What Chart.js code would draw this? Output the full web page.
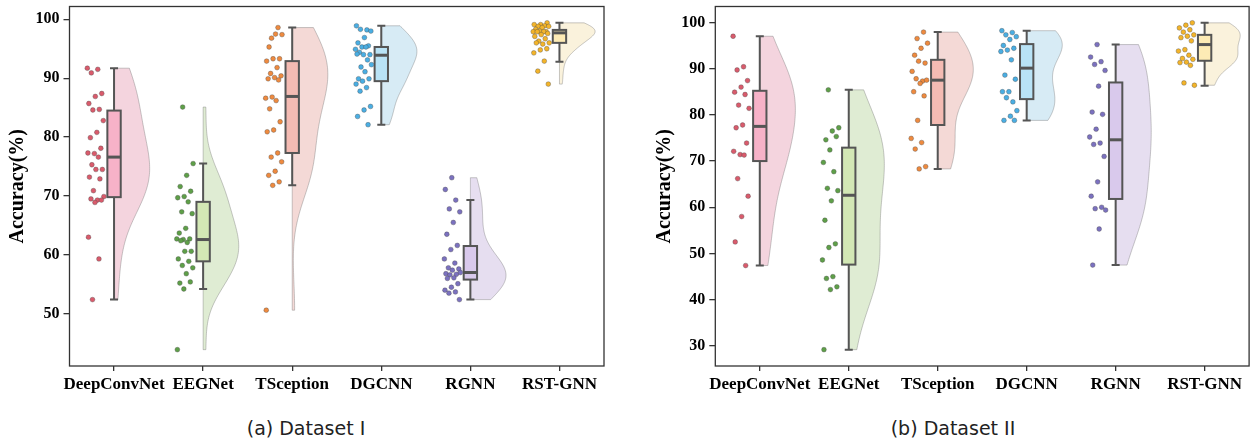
<!DOCTYPE html>
<html>
<head>
<meta charset="utf-8">
<script src="https://cdn.jsdelivr.net/npm/chart.js@4.4.1/dist/chart.umd.min.js"></script>
<style>
  body { margin: 0; background: #fff; width: 1252px; height: 443px; position: relative; overflow: hidden; }
  canvas { position: absolute; top: 0; }
  #chartA { left: 0; }
  #chartB { left: 640px; }
  .caption { position: absolute; top: 417px; font-family: "DejaVu Sans", sans-serif; font-size: 19px; color: #222; transform: translateX(-50%); white-space: nowrap; }
</style>
</head>
<body>
<canvas id="chartA" width="612" height="400"></canvas>
<canvas id="chartB" width="612" height="400"></canvas>
<div class="caption" style="left:306px">(a) Dataset I</div>
<div class="caption" style="left:953px">(b) Dataset II</div>
<script>
const categories = ["DeepConvNet", "EEGNet", "TSception", "DGCNN", "RGNN", "RST-GNN"];
const yTicksA = [50, 60, 70, 80, 90, 100];
const yTicksB = [30, 40, 50, 60, 70, 80, 90, 100];

// Dataset I, per-subject accuracy (%)
const deepConvNetA = [91.7, 91.5, 90.9, 87.4, 86.9, 85.7, 84.7, 84.6, 82.8, 80.8, 79.9, 78.1, 77.2, 77.3, 76.6, 75.3, 74.5, 74.5, 73.2, 72.9, 70.9, 69.9, 69.3, 69.5, 69.3, 68.9, 63.0, 59.3, 52.4];
const eegNetA = [85.1, 75.5, 73.5, 71.6, 70.8, 69.9, 69.7, 69.0, 67.3, 67.0, 64.5, 63.7, 62.7, 62.6, 62.7, 62.1, 62.4, 60.6, 60.6, 59.3, 58.9, 58.2, 57.8, 56.8, 55.2, 55.4, 54.2, 43.9];
const tsceptionA = [98.6, 96.8, 97.4, 97.5, 95.3, 93.3, 93.3, 92.9, 91.8, 90.8, 90.4, 90.1, 89.9, 89.7, 86.8, 86.6, 86.2, 84.8, 82.6, 81.2, 80.9, 77.3, 76.6, 75.8, 74.2, 73.5, 72.4, 71.8, 50.6];
const dgcnnA = [98.9, 98.2, 98.3, 98.0, 96.9, 96.0, 95.5, 95.3, 94.9, 95.3, 94.4, 94.0, 94.0, 94.1, 93.1, 91.9, 92.3, 91.1, 89.9, 89.9, 89.5, 89.0, 88.4, 87.8, 85.2, 84.6, 83.5, 82.1];
const rgnnA = [73.1, 71.1, 69.3, 67.8, 67.3, 65.5, 63.5, 61.6, 60.9, 59.3, 58.6, 57.8, 57.6, 57.4, 56.8, 56.7, 56.6, 57.0, 56.1, 56.0, 55.1, 54.5, 54.0, 53.7, 53.5, 52.4];
const rstGnnA = [99.4, 99.1, 99.1, 98.9, 98.8, 98.8, 98.6, 98.3, 97.9, 98.0, 97.9, 97.9, 97.9, 97.6, 97.4, 97.1, 96.7, 96.3, 96.0, 95.8, 96.0, 95.0, 94.8, 94.3, 92.9, 91.2, 89.0];

// Dataset II, per-subject accuracy (%)
const deepConvNetB = [97.0, 90.4, 89.7, 87.4, 86.0, 84.9, 84.4, 82.1, 81.4, 77.8, 77.2, 73.9, 71.4, 72.1, 71.3, 66.2, 62.4, 58.0, 52.5, 47.4];
const eegNetB = [85.4, 77.2, 76.5, 74.6, 75.3, 72.4, 69.7, 67.7, 64.1, 63.6, 61.4, 57.2, 52.1, 51.3, 48.6, 45.0, 44.6, 42.8, 42.2, 29.2];
const tsceptionB = [97.9, 96.5, 95.5, 94.4, 92.9, 91.2, 91.6, 89.4, 87.3, 87.8, 87.5, 86.8, 85.0, 84.1, 78.8, 74.9, 74.0, 72.6, 68.8, 68.3];
const dgcnnB = [98.2, 97.8, 97.3, 96.9, 96.3, 95.0, 94.4, 94.0, 93.7, 91.9, 88.6, 87.7, 85.0, 85.0, 82.8, 83.7, 80.9, 79.7, 78.8, 78.8];
const rgnnB = [95.2, 92.5, 91.5, 90.9, 89.6, 86.2, 80.6, 80.1, 76.9, 75.2, 73.9, 73.6, 71.0, 65.5, 62.4, 60.0, 59.7, 59.4, 55.3, 47.5];
const rstGnnB = [99.9, 99.4, 98.8, 98.4, 97.9, 97.3, 97.0, 96.7, 96.0, 94.1, 93.8, 92.9, 92.2, 92.0, 91.4, 91.3, 90.7, 86.9, 86.4];

// box statistics (whisker low, Q1, median, Q3, whisker high)
const loA = [52.4, 54.2, 71.8, 82.1, 52.4, 92.8];
const q1A = [69.8, 58.9, 77.3, 89.5, 55.8, 96.0];
const medA = [76.6, 62.6, 86.9, 93.9, 57.0, 97.7];
const q3A = [84.5, 69.0, 92.9, 95.3, 61.5, 98.2];
const hiA = [91.7, 75.5, 98.6, 98.9, 69.3, 99.4];

const loB = [47.4, 29.2, 68.3, 78.8, 47.5, 86.3];
const q1B = [70.0, 47.6, 77.8, 83.4, 61.8, 91.7];
const medB = [77.5, 62.6, 87.5, 90.1, 74.6, 95.2];
const q3B = [85.2, 72.9, 91.9, 95.3, 87.0, 97.3];
const hiB = [97.0, 85.4, 97.9, 98.2, 95.2, 99.9];

const pointColors = ["#d95b6c", "#5e9f48", "#ee8a3f", "#4aaee3", "#7b71bf", "#f3b42a"];
const boxColors = ["#f7b2c8", "#d3e8b5", "#f4bbb3", "#b9e3f6", "#d9c9ec", "#fdebb5"];
const violinColors = ["#f4d4de", "#dfecd3", "#f4d9d6", "#d7ebf5", "#e6def0", "#faf2dc"];

const SERIF = "'Liberation Serif', 'Times New Roman', serif";

// gaussian kde, scott bandwidth, cut at data range
function kde(vals, steps) {
  const n = vals.length;
  const mean = vals.reduce((a, b) => a + b, 0) / n;
  const sd = Math.sqrt(vals.reduce((a, b) => a + (b - mean) ** 2, 0) / (n - 1));
  const bw = sd * Math.pow(n, -0.2);
  const lo = Math.min(...vals), hi = Math.max(...vals);
  const out = [];
  for (let i = 0; i <= steps; i++) {
    const y = lo + (hi - lo) * i / steps;
    let d = 0;
    vals.forEach(v => { d += Math.exp(-0.5 * ((y - v) / bw) ** 2); });
    out.push([y, d]);
  }
  const mx = Math.max(...out.map(p => p[1]));
  return out.map(p => [p[0], p[1] / mx]);
}

const raincloud = {
  id: "raincloud",
  beforeDatasetsDraw(chart, args, opts) {
    const { ctx, scales: { x, y } } = chart;
    const s = opts.stats;
    opts.series.forEach((vals, i) => {
      const cx = x.getPixelForValue(i);
      const unit = x.getPixelForValue(i + 1) - cx;
      // half violin
      const dens = kde(vals, 120);
      ctx.save();
      ctx.beginPath();
      ctx.moveTo(cx, y.getPixelForValue(dens[0][0]));
      dens.forEach(p => ctx.lineTo(cx + 0.4 * unit * p[1], y.getPixelForValue(p[0])));
      ctx.lineTo(cx, y.getPixelForValue(dens[dens.length - 1][0]));
      ctx.closePath();
      ctx.fillStyle = violinColors[i];
      ctx.fill();
      ctx.strokeStyle = "rgba(120,120,120,0.45)";
      ctx.lineWidth = 0.9;
      ctx.stroke();

      // box + whiskers
      const bw = 0.075 * unit, cap = 0.045 * unit;
      const yq1 = y.getPixelForValue(s.q1[i]), yq3 = y.getPixelForValue(s.q3[i]);
      const ylo = y.getPixelForValue(s.lo[i]), yhi = y.getPixelForValue(s.hi[i]);
      const ymed = y.getPixelForValue(s.med[i]);
      ctx.strokeStyle = "#555";
      ctx.lineWidth = 2;
      ctx.beginPath();
      ctx.moveTo(cx, yq3); ctx.lineTo(cx, yhi);
      ctx.moveTo(cx - cap, yhi); ctx.lineTo(cx + cap, yhi);
      ctx.moveTo(cx, yq1); ctx.lineTo(cx, ylo);
      ctx.moveTo(cx - cap, ylo); ctx.lineTo(cx + cap, ylo);
      ctx.stroke();
      ctx.fillStyle = boxColors[i];
      ctx.fillRect(cx - bw, yq3, 2 * bw, yq1 - yq3);
      ctx.strokeRect(cx - bw, yq3, 2 * bw, yq1 - yq3);
      ctx.lineWidth = 3;
      ctx.beginPath();
      ctx.moveTo(cx - bw, ymed); ctx.lineTo(cx + bw, ymed);
      ctx.stroke();
      ctx.restore();
    });
  },
  afterDraw(chart) {
    const { ctx, chartArea: a } = chart;
    ctx.save();
    ctx.strokeStyle = "#333";
    ctx.lineWidth = 1.3;
    ctx.strokeRect(a.left, a.top, a.right - a.left, a.bottom - a.top);
    ctx.restore();
  }
};

function jitter(i, k) {
  const f = (k * 0.6180339887 + i * 0.37) % 1;
  return -0.30 + 0.19 * f;
}

function makeChart(id, series, stats, yTicks, yAxisWidth, padRight, titlePad) {
  const all = series.flat();
  const dmin = Math.min(...all), dmax = Math.max(...all);
  const margin = 0.05 * (dmax - dmin);
  const datasets = series.map((vals, i) => ({
    label: categories[i],
    data: vals.map((v, k) => ({ x: i + jitter(i, k), y: v })),
    backgroundColor: pointColors[i],
    borderColor: "rgba(70,70,70,0.7)",
    borderWidth: 0.5,
    pointRadius: 2.4,
    pointHoverRadius: 2.4
  }));
  const tickGrid = (len) => ({
    display: true, drawOnChartArea: false, drawTicks: true,
    tickLength: len, color: "#333", lineWidth: 1.3
  });
  return new Chart(document.getElementById(id), {
    type: "scatter",
    data: { datasets },
    plugins: [raincloud],
    options: {
      responsive: false,
      animation: false,
      devicePixelRatio: 1,
      layout: { padding: { left: 0, top: 6.5, right: padRight, bottom: 0 } },
      plugins: {
        legend: { display: false },
        tooltip: { enabled: false },
        raincloud: { series, stats }
      },
      scales: {
        x: {
          type: "linear", min: -0.5, max: 5.5,
          afterBuildTicks: (s) => { s.ticks = categories.map((c, i) => ({ value: i })); },
          afterFit: (s) => { s.height = 34; s.paddingLeft = 0; s.paddingRight = 0; },
          grid: tickGrid(5),
          border: { display: false },
          ticks: {
            padding: 3, color: "#000", autoSkip: false, maxRotation: 0,
            font: { family: SERIF, size: 17, weight: "bold" },
            callback: (v) => categories[v]
          }
        },
        y: {
          min: dmin - margin, max: dmax + margin,
          afterBuildTicks: (s) => { s.ticks = yTicks.map(v => ({ value: v })); },
          afterFit: (s) => { s.width = yAxisWidth; s.paddingTop = 0; s.paddingBottom = 0; },
          grid: tickGrid(6),
          border: { display: false },
          ticks: { padding: 4, color: "#000", font: { family: SERIF, size: 16, weight: "bold" } },
          title: {
            display: true, text: "Accuracy(%)", color: "#000",
            padding: { top: titlePad, bottom: 0 },
            font: { family: SERIF, size: 20, weight: "bold", lineHeight: 1.2 }
          }
        }
      }
    }
  });
}

makeChart("chartA",
  [deepConvNetA, eegNetA, tsceptionA, dgcnnA, rgnnA, rstGnnA],
  { lo: loA, q1: q1A, med: medA, q3: q3A, hi: hiA },
  yTicksA, 69.5, 8, 5.5);

makeChart("chartB",
  [deepConvNetB, eegNetB, tsceptionB, dgcnnB, rgnnB, rstGnnB],
  { lo: loB, q1: q1B, med: medB, q3: q3B, hi: hiB },
  yTicksB, 75.3, 2, 13);
</script>
</body>
</html>
